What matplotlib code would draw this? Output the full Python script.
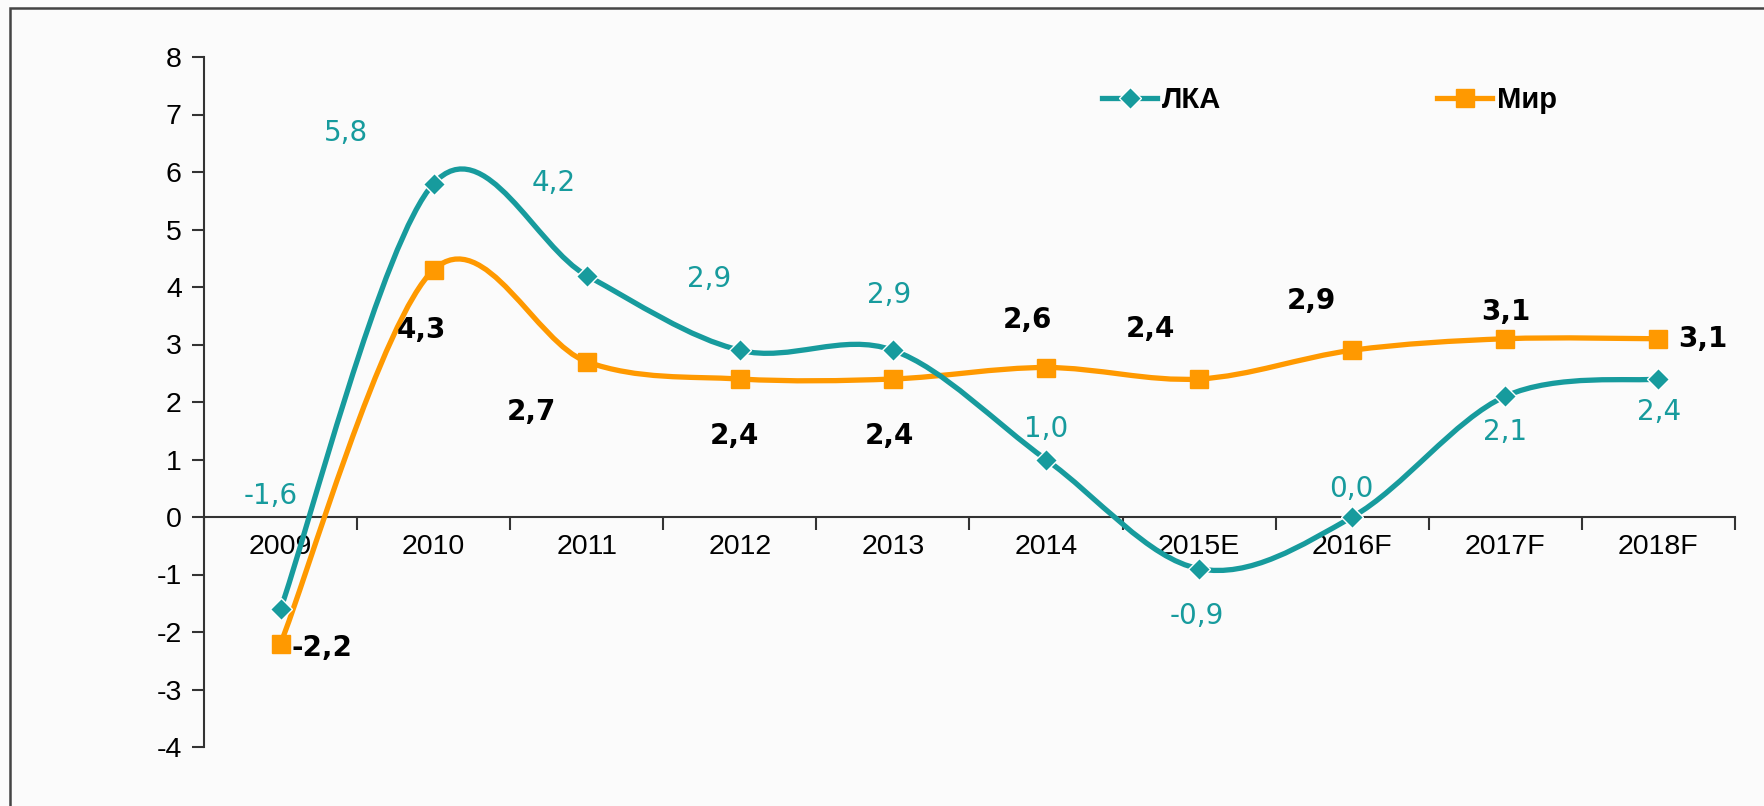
import matplotlib as mpl
import matplotlib.pyplot as plt
from matplotlib.path import Path
from matplotlib.patches import PathPatch, Rectangle
from matplotlib.lines import Line2D

mpl.rcParams['font.family'] = ['Liberation Sans', 'DejaVu Sans']
mpl.rcParams['axes.unicode_minus'] = False

years = ['2009', '2010', '2011', '2012', '2013', '2014', '2015E', '2016F', '2017F', '2018F']
lka = [-1.6, 5.8, 4.2, 2.9, 2.9, 1.0, -0.9, 0.0, 2.1, 2.4]
mir = [-2.2, 4.3, 2.7, 2.4, 2.4, 2.6, 2.4, 2.9, 3.1, 3.1]

# label offsets in pixels (dx, dy) from the point
lka_off = [(-10, 113), (-88, 51), (-33, 92), (-31, 71), (-4, 55),
           (0, 31), (-2, -47), (-1, 28), (0, -36), (1, -33)]
mir_off = [(41, -5), (-12, -60), (-55, -50), (-5, -57), (-4, -57),
           (-19, 47), (-49, 50), (-41, 49), (0, 27), (44, 0)]

teal = '#179B9D'
orange = '#FF9900'


def smooth_path(xs, ys):
    # excel-like smoothed line: cubic bezier segments through the points
    pts = list(zip(xs, ys))
    n = len(pts)
    verts = [pts[0]]
    codes = [Path.MOVETO]
    for i in range(n - 1):
        p0 = pts[max(i - 1, 0)]
        p1 = pts[i]
        p2 = pts[i + 1]
        p3 = pts[min(i + 2, n - 1)]
        c1 = (p1[0] + (p2[0] - p0[0]) / 6, p1[1] + (p2[1] - p0[1]) / 6)
        c2 = (p2[0] - (p3[0] - p1[0]) / 6, p2[1] - (p3[1] - p1[1]) / 6)
        verts += [c1, c2, p2]
        codes += [Path.CURVE4] * 3
    return Path(verts, codes)


fig = plt.figure(figsize=(17.65, 8.06), dpi=100, facecolor='#FBFBFB')
fig.patches.append(Rectangle((10 / 1765, -0.5), 1.5, 0.5 + 1 - 8 / 806,
                             transform=fig.transFigure, fill=False,
                             edgecolor='#444444', lw=1.8))
ax = fig.add_axes([204 / 1765, 1 - 747 / 806, (1735 - 204) / 1765, (747 - 57) / 806])
ax.patch.set_alpha(0)

x = list(range(len(years)))
ax.add_patch(PathPatch(smooth_path(x, mir), fill=False, edgecolor=orange, lw=3.8, capstyle='round', zorder=3))
ax.add_patch(PathPatch(smooth_path(x, lka), fill=False, edgecolor=teal, lw=3.8, capstyle='round', zorder=3))
ax.plot(x, mir, ls='none', marker='s', ms=12.5, color=orange, zorder=4)
ax.plot(x, lka, ls='none', marker='D', ms=11.5, color=teal, mec='white', mew=1, zorder=5)

for i in x:
    ax.annotate(f'{lka[i]:.1f}'.replace('.', ','), (i, lka[i]), xytext=lka_off[i],
                textcoords='offset pixels', ha='center', va='center',
                fontsize=20, color=teal, family='DejaVu Sans')
    ax.annotate(f'{mir[i]:.1f}'.replace('.', ','), (i, mir[i]), xytext=mir_off[i],
                textcoords='offset pixels', ha='center', va='center',
                fontsize=20, color='black', fontweight='bold', family='DejaVu Sans')

ax.set_xlim(-0.5, len(years) - 0.5)
ax.set_ylim(-4, 8)
ax.set_yticks(range(-4, 9))
ax.set_xticks(x)
ax.set_xticklabels(years)
ax.set_xticks([i + 0.5 for i in range(-1, len(years))], minor=True)
ax.tick_params(axis='x', which='major', length=0, pad=12, labelsize=20.5)
ax.tick_params(axis='x', which='minor', length=9, direction='out', width=1.5, color='#333333')
ax.tick_params(axis='y', length=9, width=1.5, pad=7, labelsize=20.5, color='#333333')

ax.spines['top'].set_visible(False)
ax.spines['right'].set_visible(False)
ax.spines['bottom'].set_position(('data', 0))
for s in ('left', 'bottom'):
    ax.spines[s].set_color('#333333')
    ax.spines[s].set_linewidth(1.5)

handles = [Line2D([], [], color=teal, lw=3.8, marker='D', ms=11.5, mec='white', mew=1),
           Line2D([], [], color=orange, lw=3.8, marker='s', ms=12.5)]
fig.legend(handles, ['ЛКА', 'Мир'], loc='center left',
           bbox_to_anchor=(1102 / 1765, 1 - 100 / 806), ncol=2, frameon=False,
           prop={'size': 21, 'weight': 'bold'}, handlelength=1.9,
           handletextpad=0.15, columnspacing=7.4, borderpad=0, borderaxespad=0)

fig.savefig('out.png', dpi=100, facecolor=fig.get_facecolor())
